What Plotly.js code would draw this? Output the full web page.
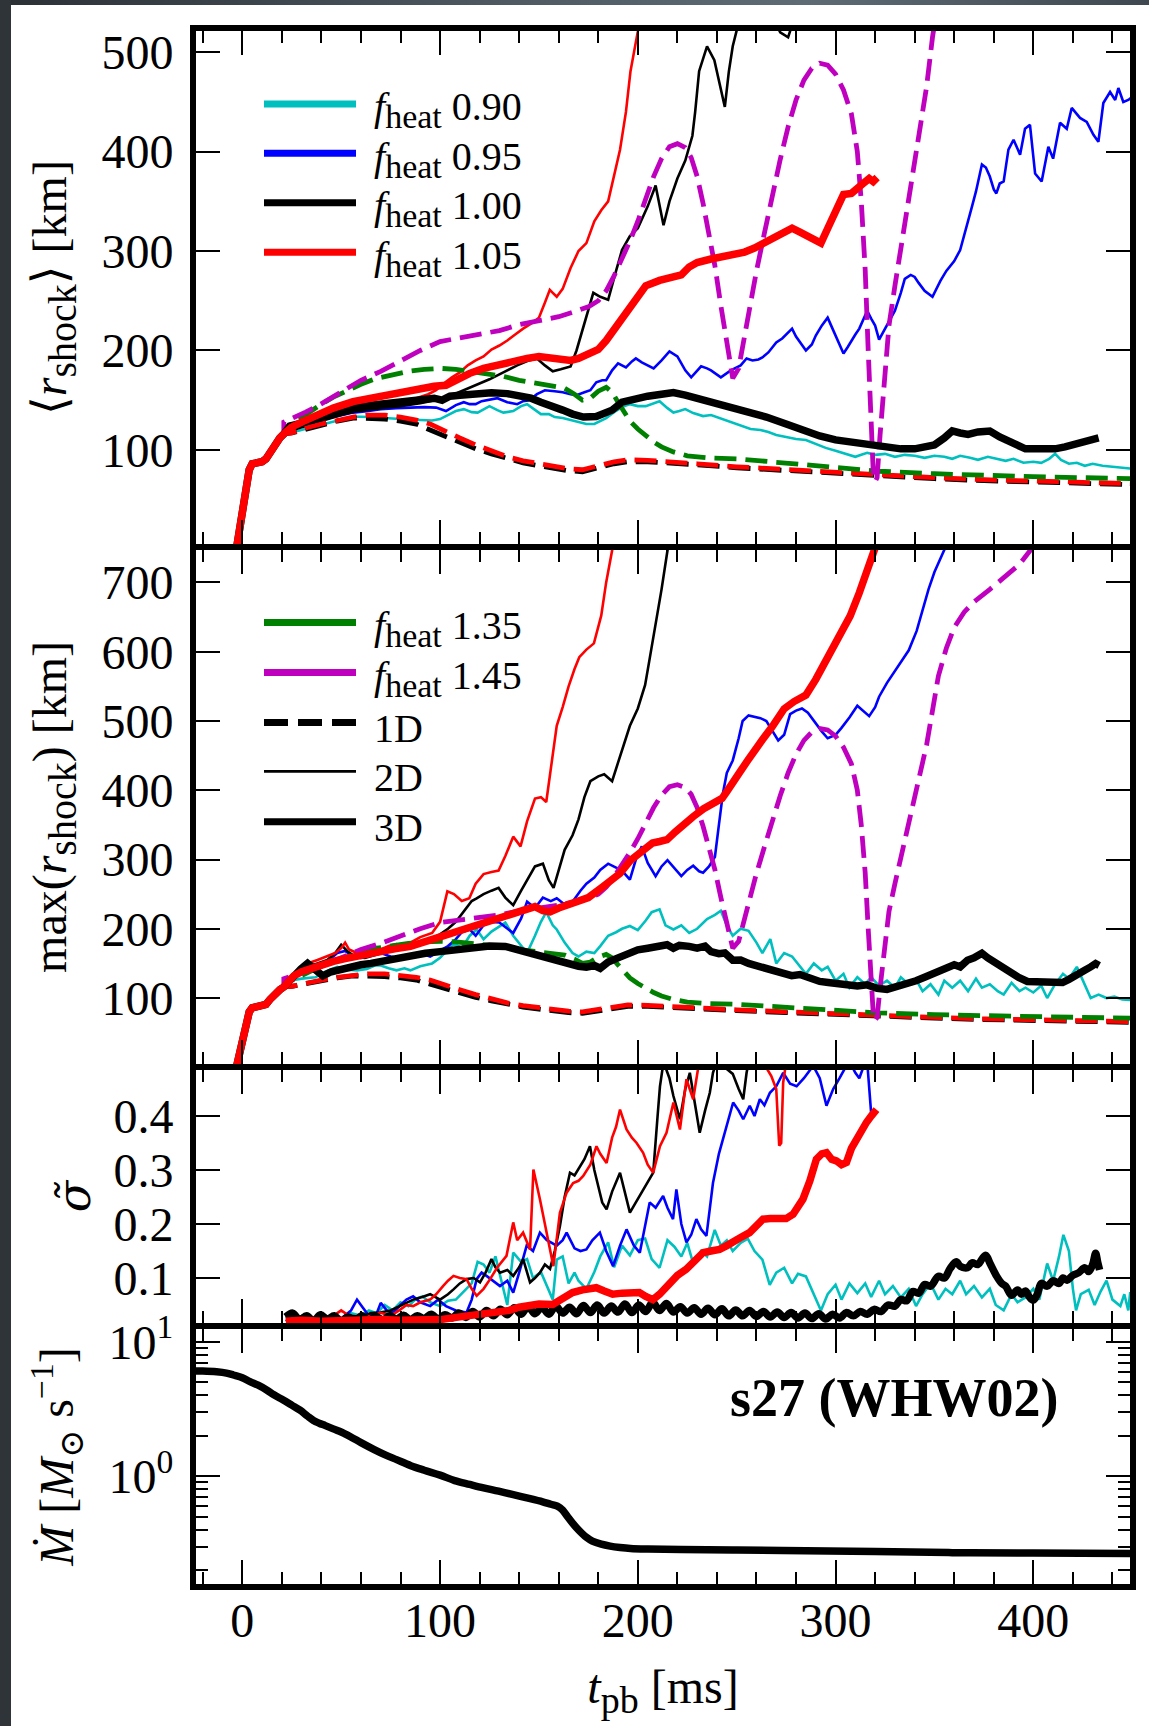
<!DOCTYPE html>
<html>
<head>
<meta charset="utf-8">
<script src="https://cdn.plot.ly/plotly-3.0.1.min.js"></script>
<style>
html, body { margin: 0; padding: 0; background: #ffffff; }
#edgeTop { position: absolute; left: 0; top: 0; width: 1149px; height: 5px;
  background: linear-gradient(90deg, #2b3035 0%, #4f5a63 45%, #5e6b75 70%, #3f4850 100%); }
#edgeLeft { position: absolute; left: 0; top: 0; width: 11px; height: 1726px; background: #2f3439; }
#chart { position: absolute; left: 0; top: 0; width: 1149px; height: 1726px; }
</style>
</head>
<body>
<div id="edgeTop"></div>
<div id="edgeLeft"></div>
<div id="chart"></div>
<script>
// ---------- data: [t_pb (ms), value] ----------

// common early post-bounce rise of the shock (all dimensions)
const bounce = [[-3,0],[-1.5,18],[0,40],[1,55],[2.2,66],[3.5,80],[5,86],[7.5,87],[10,88],[12,91],[14,98],[16.5,106],[19,112],[21,116]];

// 1D runs (shock radius, km) — same in mean and max panels
const r1D_f100 = [[25,117],[32,121],[40,125],[48,129],[56,132],[64,132],[72,131],[80,129],[88,126],[95,120],[102,114],[110,107],[118,101],[126,96],[134,91],[142,87],[150,84],[158,81],[165,79],[172,78],[177,80],[182,83],[188,86],[195,88],[205,88],[215,87],[230,85],[250,82],[275,79],[300,76],[325,73],[350,71],[375,69],[400,67.5],[425,66],[450,65]];
const r1D_f105 = [[25,117],[32,122],[40,126],[48,130],[56,133],[64,135],[72,135],[80,133],[88,130],[95,126],[102,119],[110,112],[118,105],[126,99],[134,93],[142,89],[150,86],[158,83],[165,81],[172,80],[177,82],[182,85],[188,88],[195,90],[205,89.5],[215,88.5],[230,86],[250,83],[275,80],[300,77],[325,74],[350,72],[375,70],[400,68.5],[425,67],[450,66]];
const r1D_f135 = [[22,122],[28,130],[34,139],[40,146],[46,153],[52,159],[60,166],[68,172],[76,176],[84,179],[92,181],[100,182],[108,181],[116,179],[124,177],[132,174],[140,170],[148,167],[156,165],[163,162],[168,156],[172,150],[176,152],[180,159],[184,163],[187,158],[190,148],[193,138],[196,129],[200,121],[204,114],[208,108],[212,103],[218,98],[225,94],[235,92],[250,91],[267,88],[285,84],[300,82],[322,78.5],[350,76],[378,74],[400,73],[425,72],[450,71]];
const r1D_f145 = [[21,128],[26,132],[32,138],[38,144],[45,152],[53,162],[60,170],[70,179],[80,190],[90,200],[100,209],[110,213],[120,216],[130,220],[140,226],[150,230],[160,234],[168,239],[175,244],[180,250],[184,260],[188,275],[192,292],[196,310],[200,330],[204,352],[208,375],[212,393],[216,405],[220,408],[224,404],[227,394],[230,375],[233,348],[236,315],[239,285],[242,245],[245,205],[248,172],[251,182],[254,215],[257,250],[260,280],[264,318],[268,358],[272,392],[276,425],[280,452],[284,472],[288,484],[292,489],[296,487],[300,478],[304,462],[308,438],[311,400],[313,350],[315,280],[316.5,200],[318,120],[319,80],[320,68],[321,72],[322.5,115],[324.5,170],[327,225],[330,265],[334,315],[338,360],[342,410],[346,465],[349,515],[352,565],[356,605],[360,635],[365,657],[370,672],[378,690],[385,706],[393,726],[400,752]];

// mean shock radius <r_shock>, 2D runs
const mean2D_f090 = [[24,117],[30,120],[38,124.5],[46,128],[56,133.5],[64,133],[70,132],[80,131],[90,130],[96,129.5],[100,131],[104,135],[108,139],[112,141],[116,138],[119,137.5],[122,141],[125,144],[129,140],[132,137.5],[137,139],[141,144],[144,146],[148,140],[151,136],[155,136],[158,133],[162,132],[166,130],[170,128],[174,126],[178,126],[181,129],[184,132],[188,138],[192,143],[196,146],[200,144],[204,144],[208,147],[211,149],[215,142],[218,137.5],[221,139],[224,141],[228,137],[233,134],[237,135],[240,133],[244,130],[248,127],[252,124.5],[257,121],[262,120],[266,118],[270,115],[275,113],[280,111],[285,110],[290,106],[295,102],[300,99],[305,96],[310,93],[313,95],[316,97],[320,95],[325,96],[330,93],[335,95],[340,94],[345,92],[350,94],[355,93],[359,91],[363,94],[368,92],[372,90],[377,93],[381,91],[386,89],[390,91],[395,87],[400,88],[404,87],[408,91],[411,96],[414,90],[418,86],[422,87],[426,84],[430,86],[435,84],[440,83],[445,82],[450,81]];
const mean2D_f095 = [[24,120],[30,124],[36,128],[42,131],[48,134],[56,137.5],[63,139],[70,141],[78,142],[86,142.5],[92,143],[98,142.5],[103,139],[108,145],[112,148],[115,146],[118,146],[121,149],[124,150],[129,152],[134,148],[139,146],[142,149],[145,150],[149,156],[153,160],[158,159],[162,158],[166,156],[169,155],[173,158],[176,160],[179,168],[182,170],[184,170],[187,180],[190,187],[192,185],[194,183],[197,189],[199,192],[202,188],[205,185],[208,182],[212,190],[216,199],[220,194],[224,180],[227,173],[230,180],[232,184],[235,182],[237,180],[242,173],[245,177],[247,180],[250,183],[252,185],[255,192],[258,190],[261,191],[263,193],[266,198],[268,203],[270,208],[273,212],[276,218],[278,222],[280,214],[282,208],[285,200],[288,206],[290,215],[293,225],[296,233],[298,224],[300,215],[302,205],[304,197],[306,203],[308,210],[310,216],[312,222],[314,232],[316,240],[318,232],[320,225],[322,211],[324,218],[326,225],[328,232],[330,240],[333,258],[335,272],[338,276],[340,274],[342,268],[345,260],[349,254],[351,262],[353,270],[356,280],[358,285],[360,290],[363,301],[365,315],[367,330],[369,345],[371,360],[373,378],[374,387],[376,384],[378,375],[380,362],[381.3,358],[383,368],[385,370],[387.4,402],[390,412],[393.3,397],[395.8,423],[398.3,427],[400.9,378],[404.2,370],[407.6,405],[410,393],[413.5,429],[416.9,423],[419.4,444],[423.6,434],[427,430],[430.4,417],[432.9,410],[435.4,449],[438.8,460],[441.4,452],[443,464],[445.5,450],[448,452],[450,455]];
const mean2D_f100 = [[24,119],[30,123],[40,129],[50,135],[58,139],[70,142],[80,144],[90,147],[95,149],[100,151],[106,155],[112,160],[119,166],[125,171],[132,178],[139,185],[145,190],[149,192],[153,185],[157,179],[161,181],[166,184],[169,200],[172,220],[175,240],[177.5,258],[181,254],[185,251],[189,280],[192,301],[196,315],[200,323],[205,345],[209,366],[213,326],[216,350],[220,373],[224,391],[227.6,416],[229,440],[231,481],[235,506],[238.7,492],[241,470],[244,445],[246,480],[248,506],[251,530],[258,560],[266,545],[272,520],[276,515],[280,540],[286,590]];
const mean2D_f105 = [[24,121],[30,126],[40,131],[50,137],[60,142],[70,146],[80,150],[88,152],[94,156],[98,160],[102,167],[106,173],[110,178],[114,185],[118,190],[122,194],[126,201],[130,205],[134,210],[138,216],[142,222],[146,227],[150,233],[153,248],[155.5,261],[157,258],[159,254],[162,262],[166,283],[170,300],[174,308],[178,330],[181.5,341],[185,350],[188,375],[191,402],[194,440],[196.3,481],[200,521],[203,560]];

// mean shock radius <r_shock>, 3D runs
const mean3D_f100 = [[24,124],[30,127],[40,133],[50,139],[56,142],[65,145],[75,147.5],[86,149],[93,152],[97,152],[101,150],[105,154],[110,155],[118,157],[126,157.5],[134,156.6],[140,155],[146,152],[151,148],[156,145],[162,140],[167,136],[172.5,133],[179,133.5],[183,136],[187,140],[192,148],[198,151],[205,154],[212,156],[218,157.6],[224,155],[230,152],[238,147],[247,142],[257,138],[265,133],[275,126],[285,118],[292,114],[300,110],[310,107],[322,103],[333,101],[340,101],[345,103],[350,105],[355,112],[359,119],[363,117],[367,115.5],[372,118],[378,119],[383,113],[389,107],[396,101],[403,101],[411,101],[416,103],[422,106.6],[427,110],[433,112]];
const mean3D_f105 = [[25,123],[30,128],[37,135],[46,142],[56,148.5],[63,151],[70,153.5],[77,157],[83,160],[90,162],[97,164],[103,165],[107,169],[111,174],[115,177],[122,182],[130,186],[137,189],[144,192],[150,194],[156,193],[162,191],[166,190],[170,192],[175,196],[180,201],[184,210],[188,221],[192,233],[196,243.5],[200,256],[204,265],[211,270.5],[218,273],[222,276],[226,284],[230,288.5],[237,292],[243,294],[248,296],[254,299],[259,303],[265,309],[270,315.5],[274,320],[278,323],[282,319],[285,315.5],[290,310],[292.6,308],[296,322.7],[300,340],[304,357],[308,358],[311,362],[314,368],[317,373],[319,370],[321,374]];

// maximum shock radius max(r_shock), 2D runs
const max2D_f090 = [[24,125],[30,128],[37,130],[42,138],[48,145],[53,141],[58,140],[63,142],[67,147],[70,147],[74,143],[78,140],[82,143],[85,140],[90,146],[96,150],[100,158],[104,170],[107,179],[111,172],[115,190],[118.5,199],[122,185],[126,196],[130,203],[133,209],[137,190],[141,175],[144,165],[148,190],[151,210],[153.7,224],[157,205],[159,199],[163,180],[167,165],[170,160],[174,167],[178,165],[181,175],[185,190],[189,195],[192,200],[196,204],[200,198],[204,212],[207,224],[211,228],[214,205],[218,199],[222,205],[226,194],[230,200],[235,214],[239,220],[242,226],[245,205],[248,190],[252,200],[256,197],[260,180],[263,165],[267,185],[270,150],[274,165],[278,160],[281,150],[285,135],[289,150],[293,140],[296,145],[300,125],[304,135],[307,115],[311,130],[315,120],[318,130],[322,118],[326,125],[330,115],[333,130],[337,120],[341,125],[344,110],[348,120],[352,105],[355,125],[359,115],[363,125],[367,110],[371,128],[374,115],[378,120],[382,110],[385,105],[389,122],[393,110],[396,115],[400,108],[404,118],[407,100],[411,120],[415,135],[418,128],[422,145],[426,120],[429,100],[433,105],[437,100],[441,102],[445,98],[450,97]];
const max2D_f095 = [[24,128],[30,135],[36,140],[42,150],[48,165],[52,168],[56,160],[60,158],[65,162],[70,165],[75,160],[80,157],[85,162],[90,165],[95,160],[100,168],[104,175],[108,185],[111,195],[115,199],[118,190],[122,205],[126,210],[130,209],[134,200],[137,194],[141,215],[144,239],[148,230],[152,245],[156,240],[159,244],[163,235],[167,239],[171,255],[174,265],[178,274],[181,285],[185,294],[188,290],[192,284],[196,271],[199,300],[202,319],[205,295],[209,276],[212,290],[215,299],[219,285],[222,276],[225,285],[228,291],[231,283],[233,281],[236,290],[239,304],[241,350],[243,395],[245,425],[248,443],[251,475],[253,500],[256,508],[259,506],[262,504],[265,500],[268,485],[271,472],[274,480],[277,510],[280,515],[283,518],[286,512],[289,500],[293,485],[296,475],[300,480],[303,490],[307,505],[311,522],[314,515],[317,507],[320,520],[322,535],[326,555],[330,572],[333,585],[337,602],[341,630],[344,662],[347,690],[350,715],[354,742],[357,760]];
const max2D_f100 = [[22,125],[28,135],[33,145],[38,150],[43,155],[47,165],[50,177],[53,168],[57,160],[62,158],[67,162],[72,165],[77,170],[81,172],[85,175],[90,180],[95,185],[100,192],[104,200],[108,210],[112,225],[116,240],[118.5,244],[122,250],[126,255],[129.6,259],[133,245],[137,234],[141,255],[145,275],[148,290],[152,294],[155,270],[157.4,259],[160,285],[163,314],[167,335],[170,358],[173,390],[176,413],[180,420],[183,423],[185,418],[187,413],[190,440],[192.6,463],[196,493],[200,518],[203.7,552],[206,590],[209,637],[212,690],[215,746],[217,790]];
const max2D_f105 = [[22,125],[28,138],[33,150],[38,155],[43,160],[47,165],[50,172],[52,180],[54,170],[58,165],[62,168],[66,172],[70,170],[74,175],[78,178],[82,175],[85,180],[90,188],[96,194],[100,210],[103.7,254],[107,250],[111,240],[114.8,244],[118,265],[122,279],[126,282],[129.6,284],[133,305],[137,333],[140.7,319],[144,355],[148,388],[151,390],[153.7,383],[156,430],[159,493],[162,520],[165,550],[168,575],[170.4,592],[174,603],[177.8,612],[181.5,652],[184,700],[187,746],[189,790]];

// maximum shock radius max(r_shock), 3D runs
const max3D_f100 = [[25,130],[29.6,142],[33,150],[37,140],[40.7,132],[45,138],[50,142],[55.5,144.7],[60,148],[65,150],[70,153],[74,154.7],[80,158],[86,161],[92.6,164.6],[100,167],[107.4,169.6],[113,172],[118.5,174.6],[125,175],[133,174.6],[139,170],[144.4,164.6],[150,160],[155,157],[159.3,154.7],[165,150],[170,146],[174,144.7],[178,147],[181,143],[185,152],[190,158],[195,164],[200,169.6],[205,172],[210,175],[214.8,177],[218,172],[221,176],[226,174.6],[230,172],[234,175],[237,167],[241,164],[244,165],[248,154.7],[252,155],[256,150],[260,147],[263,144.7],[268,142],[272,137],[277.8,132.3],[282,134],[287,128],[292,124],[296.3,122.4],[301,121],[306,118],[311,117.4],[316,119],[321,114],[326,112.4],[330,116],[335,118],[340.7,124.9],[345,130],[350,136],[355.6,144.7],[360,148],[363,145],[366.7,154.7],[370,158],[374,164.6],[377,158],[381.5,149.7],[385,142],[388,137],[392.6,129.8],[397,124],[403.7,122.4],[409,123],[414.8,122.4],[418,127],[422,134.8],[426,140],[429,145],[431.5,149.7],[433.3,147]];
const max3D_f105 = [[26,132],[30,138],[35,143],[40.7,149.7],[46,153],[52,157],[57,160],[63,164.6],[70,168],[77,171],[85,174.6],[92,181],[100,187],[107.4,194.4],[114,200],[122,206],[129.6,214.3],[136,221],[144.4,229.2],[148,232],[152,226],[155.6,224.3],[160,230],[165,235],[170.4,239],[175,245],[181.5,259],[186,268],[191,280],[196.3,298.8],[202,312],[207.4,323.7],[211,326],[214.8,328.7],[219,340],[224,353.5],[228,362],[233.3,373.4],[238,380],[242.6,388.3],[245,398],[248,413],[252,428],[255.6,443],[259,458],[263,472.8],[268,492],[274,517.6],[279,528],[285,537.4],[290,560],[296.3,592],[301,618],[307.4,651.8],[312,685],[316,718],[318.5,741],[320,750]];

// normalized anisotropy sigma-tilde, 2D runs
const sig2D_f090 = [[22,0.025],[26,0.03],[30,0.022],[35,0.028],[40,0.02],[45,0.03],[50,0.025],[55,0.035],[60,0.03],[64,0.04],[68,0.035],[72,0.05],[76,0.04],[80,0.055],[84,0.048],[88,0.062],[91,0.066],[95,0.055],[100,0.048],[104,0.058],[108,0.06],[112,0.075],[116,0.09],[119,0.13],[122,0.125],[125,0.11],[128,0.14],[131,0.095],[134,0.05],[137,0.147],[141,0.13],[144,0.135],[147,0.1],[151,0.111],[154,0.085],[157,0.06],[159,0.134],[162,0.14],[165,0.09],[168,0.11],[170,0.095],[174,0.08],[178,0.111],[181,0.14],[185,0.166],[188,0.12],[192,0.16],[196,0.142],[200,0.17],[203.7,0.173],[207,0.135],[211,0.119],[215,0.17],[218.5,0.158],[222,0.14],[225,0.165],[228,0.127],[232,0.15],[235,0.14],[238.9,0.189],[242,0.16],[245,0.17],[248,0.15],[252,0.165],[255.6,0.173],[259,0.15],[263,0.134],[266.7,0.0875],[270,0.11],[274,0.119],[278,0.09],[281,0.108],[285,0.103],[289,0.07],[292.6,0.04],[296,0.07],[300,0.0875],[303,0.06],[307,0.09],[311,0.072],[315,0.09],[318,0.065],[322,0.095],[325,0.07],[329,0.085],[333,0.064],[337,0.08],[340.7,0.048],[344,0.07],[348,0.09],[352,0.06],[355.6,0.08],[359,0.07],[363,0.095],[366,0.07],[370,0.085],[374,0.064],[378,0.08],[381,0.05],[385,0.04],[389,0.07],[392,0.055],[396,0.064],[400,0.08],[403,0.06],[407,0.127],[410,0.095],[413,0.14],[415.2,0.18],[418,0.15],[420,0.08],[421.6,0.04],[424,0.07],[428,0.078],[431,0.05],[434,0.075],[437,0.095],[440,0.06],[444,0.048],[446,0.07],[448,0.04],[449,0.074]];
const sig2D_f095 = [[22,0.02],[27,0.03],[32,0.025],[38,0.02],[44,0.028],[50,0.025],[55,0.04],[58,0.06],[61,0.045],[64,0.03],[68,0.035],[70,0.054],[73,0.04],[76.3,0.036],[80,0.05],[83,0.06],[86.4,0.066],[90,0.055],[95,0.048],[99,0.06],[103,0.048],[108,0.04],[113.4,0.036],[116,0.06],[118.5,0.098],[121,0.11],[123.5,0.104],[127,0.095],[130.3,0.085],[134,0.095],[137,0.073],[140,0.11],[143.8,0.16],[147,0.15],[150.5,0.184],[154,0.17],[159,0.16],[162,0.17],[164,0.184],[168,0.155],[171,0.15],[174,0.153],[177,0.17],[180.8,0.184],[184,0.15],[187.5,0.122],[191,0.16],[194.3,0.19],[198,0.16],[201,0.147],[204,0.2],[206,0.24],[209,0.23],[212.8,0.252],[215,0.23],[217.8,0.209],[219.5,0.264],[222,0.2],[224.6,0.166],[227,0.18],[229.6,0.209],[232,0.19],[234.7,0.178],[236,0.22],[238,0.276],[241,0.33],[244.8,0.381],[248.2,0.425],[251,0.41],[253.3,0.394],[256.6,0.419],[259,0.4],[261.7,0.431],[264,0.42],[266.8,0.443],[270,0.455],[273.5,0.48],[277,0.46],[280.3,0.455],[284,0.47],[288.7,0.493],[292,0.47],[295.4,0.419],[298.8,0.45],[302,0.47],[305,0.49],[307.2,0.5],[310,0.48],[312,0.47],[314,0.49],[316,0.5],[317.5,0.44],[318,0.405]];
const sig2D_f100 = [[22,0.03],[26,0.02],[30,0.03],[35,0.025],[40,0.02],[45,0.025],[50,0.022],[55,0.03],[60,0.028],[65,0.035],[69.6,0.036],[75,0.04],[79.7,0.048],[84,0.055],[86.4,0.06],[91,0.065],[95,0.07],[100,0.06],[104,0.07],[106.8,0.079],[110,0.09],[113.4,0.098],[117,0.1],[120.2,0.092],[123,0.11],[126,0.135],[128,0.12],[130.3,0.11],[134,0.115],[137,0.104],[140,0.12],[142,0.135],[145.5,0.092],[148,0.1],[150.5,0.11],[153,0.125],[155.6,0.117],[158,0.15],[160.6,0.196],[163,0.25],[165.7,0.295],[168,0.29],[170.7,0.307],[173,0.32],[175.8,0.344],[178,0.3],[180.8,0.258],[182,0.24],[184.2,0.227],[187,0.26],[191,0.295],[194,0.25],[196,0.221],[199,0.24],[201,0.252],[204,0.27],[207.8,0.295],[210,0.4],[211.2,0.455],[213,0.5],[216,0.47],[218,0.437],[220,0.41],[221.3,0.394],[224,0.45],[226.3,0.48],[229,0.42],[231.3,0.369],[234,0.41],[236.4,0.443],[238,0.48],[239.8,0.5],[244,0.49],[248,0.478],[251,0.45],[253.3,0.431],[255,0.48],[257,0.52],[262,0.55]];
const sig2D_f105 = [[22,0.02],[26,0.03],[30,0.025],[34,0.02],[38,0.03],[42,0.02],[46,0.03],[50,0.04],[54,0.03],[58,0.025],[62,0.03],[66,0.028],[69.6,0.036],[75,0.03],[79.7,0.041],[83,0.05],[86.4,0.048],[90,0.055],[95,0.06],[98,0.07],[101.5,0.085],[104,0.095],[106.8,0.104],[110,0.1],[113.4,0.098],[116,0.08],[118.5,0.067],[122,0.08],[125.3,0.098],[129,0.12],[133.6,0.141],[137,0.203],[139,0.17],[142,0.184],[145.5,0.153],[147.2,0.301],[150.5,0.246],[154,0.184],[157.3,0.122],[160.6,0.221],[164,0.258],[167.3,0.276],[170,0.28],[172.4,0.289],[176,0.31],[179.1,0.344],[181,0.33],[184.2,0.313],[187,0.36],[189,0.38],[191,0.412],[194.3,0.375],[197,0.36],[199.4,0.35],[202.7,0.332],[205,0.31],[207.8,0.295],[211.2,0.344],[214.5,0.369],[218,0.425],[221.3,0.375],[224.6,0.468],[228,0.431],[231,0.5],[234,0.53],[240,0.55],[250,0.55],[260,0.52],[265,0.49],[267.5,0.474],[270,0.45],[271.5,0.345],[272.5,0.35],[273.5,0.462],[275,0.5],[280,0.55]];

// normalized anisotropy sigma-tilde, 3D runs
const sig3D_f100 = [[22,0.028],[25.5,0.035],[29,0.022],[32.5,0.03],[36,0.02],[39.5,0.032],[43,0.024],[46.5,0.03],[50,0.02],[53.5,0.028],[57,0.022],[60.5,0.03],[64,0.021],[67.5,0.029],[71,0.022],[74.5,0.03],[78,0.024],[81.5,0.031],[85,0.023],[88.5,0.03],[92,0.025],[95.5,0.033],[99,0.024],[102.5,0.032],[106,0.026],[109.5,0.035],[113,0.027],[116.5,0.038],[120,0.028],[123.5,0.04],[127,0.03],[130.5,0.042],[134,0.032],[137.5,0.045],[141,0.033],[144.5,0.047],[148,0.034],[151.5,0.046],[155,0.033],[158.5,0.048],[162,0.035],[165.5,0.046],[169,0.034],[172.5,0.049],[176,0.036],[179.5,0.05],[183,0.035],[186.5,0.048],[190,0.037],[193.5,0.052],[197,0.036],[200.5,0.05],[204,0.038],[207.5,0.055],[211,0.04],[214.5,0.053],[218,0.037],[221.5,0.047],[225,0.035],[228.5,0.045],[232,0.033],[235.5,0.044],[239,0.032],[242.5,0.043],[246,0.03],[249.5,0.041],[253,0.03],[256.5,0.04],[260,0.029],[263.5,0.038],[267,0.028],[270.5,0.037],[274,0.027],[277.5,0.036],[281,0.026],[284.5,0.035],[288,0.025],[291.5,0.034],[295,0.024],[298.5,0.033],[302,0.026],[305.5,0.036],[309,0.03],[312.5,0.038],[316,0.033],[319.5,0.042],[323,0.038],[326.5,0.05],[330,0.048],[333,0.06],[336,0.058],[339,0.075],[342,0.072],[345,0.088],[348,0.085],[352,0.103],[355,0.1],[358,0.118],[361,0.13],[363,0.122],[366.7,0.119],[369,0.128],[372,0.125],[374,0.135],[376,0.142],[378,0.128],[381.5,0.103],[384,0.09],[386,0.085],[389,0.068],[392,0.078],[394,0.07],[396,0.076],[398,0.065],[400,0.059],[402,0.07],[404,0.09],[407,0.085],[410,0.095],[413,0.09],[415,0.1],[417,0.096],[420,0.105],[423,0.11],[426,0.119],[428,0.112],[430,0.125],[431.5,0.146],[432.5,0.13],[433.5,0.115]];
const sig3D_f105 = [[22,0.02],[30,0.022],[40,0.02],[50,0.022],[60,0.021],[69.6,0.023],[80,0.022],[90,0.022],[100,0.023],[110,0.028],[120,0.033],[128,0.036],[135,0.04],[140,0.046],[145.5,0.051],[150,0.052],[157,0.051],[162,0.062],[167,0.073],[172,0.078],[176,0.08],[179,0.082],[183,0.076],[187.3,0.07],[192,0.072],[196,0.071],[200.8,0.073],[204,0.066],[207.6,0.06],[211,0.07],[216,0.091],[220,0.105],[224.4,0.116],[228,0.13],[233,0.147],[237,0.15],[241.3,0.153],[245,0.16],[248,0.168],[252,0.175],[256.5,0.184],[260,0.195],[263.3,0.209],[267,0.21],[271.7,0.212],[275,0.21],[278.5,0.218],[281,0.23],[283.5,0.246],[287,0.28],[290.3,0.32],[293,0.33],[295.4,0.332],[298,0.32],[300.4,0.317],[303,0.31],[305.5,0.314],[308,0.34],[310.5,0.357],[313,0.375],[315.6,0.388],[318,0.4],[320.7,0.412]];

// mass accretion rate (M_sun / s), s27 progenitor
const mdot = [[-25,6.06],[-20,6.05],[-13,5.98],[-8,5.85],[-4.5,5.66],[0,5.4],[3.9,5.05],[8,4.75],[12.3,4.38],[16,4.03],[20.7,3.69],[25,3.38],[29.2,3.1],[33,2.8],[36,2.6],[38.9,2.48],[42,2.38],[46,2.25],[51.9,2.07],[56,1.92],[60,1.78],[66.7,1.58],[72,1.45],[78,1.33],[85.2,1.2],[92,1.11],[100,1.02],[107.4,0.93],[115,0.87],[122,0.82],[129.6,0.775],[137,0.73],[145,0.685],[151.9,0.646],[156,0.62],[159.3,0.6],[162,0.56],[164.5,0.5],[166.7,0.455],[169,0.415],[171.5,0.38],[174,0.352],[177,0.33],[181.5,0.313],[186,0.303],[191,0.296],[196.3,0.291],[205,0.288],[222,0.286],[250,0.283],[285,0.28],[320,0.276],[359,0.271],[400,0.269],[450,0.267]];

// legend labels
const heatLabelsTop = ['0.90', '0.95', '1.00', '1.05'];
const heatLabelsMid = ['1.35', '1.45'];
const dimLabels = ['1D', '2D', '3D'];

// ---------- styling ----------
const C = { cyan: '#00bfbf', blue: '#0000ff', black: '#000000', red: '#ff0000', green: '#008000', magenta: '#bf00bf' };
const W2D = 2.6, W3D = 7.5, W1D = 4.8;
const DASH = '22px,9px';
const FONT = '"Liberation Serif", "DejaVu Serif", serif';

function line(pts, k, color, width, dash, smooth) {
  return {
    type: 'scatter', mode: 'lines',
    x: pts.map(p => p[0]), y: pts.map(p => p[1]),
    xaxis: 'x' + (k === 1 ? '' : k), yaxis: 'y' + (k === 1 ? '' : k),
    line: Object.assign({ color: color, width: width, dash: dash || 'solid' },
      smooth ? { shape: 'spline', smoothing: 1 } : {}),
    showlegend: false, hoverinfo: 'skip'
  };
}
const withBounce = pts => bounce.concat(pts);

const traces = [];
// panels 1 (mean) and 2 (max)
[[1, { f090: mean2D_f090, f095: mean2D_f095, f100: mean2D_f100, f105: mean2D_f105, d100: mean3D_f100, d105: mean3D_f105 }],
 [2, { f090: max2D_f090, f095: max2D_f095, f100: max2D_f100, f105: max2D_f105, d100: max3D_f100, d105: max3D_f105 }]]
.forEach(([k, s]) => {
  traces.push(line(withBounce(s.f090), k, C.cyan, W2D));
  traces.push(line(withBounce(s.f095), k, C.blue, W2D));
  traces.push(line(withBounce(s.f100), k, C.black, W2D));
  traces.push(line(withBounce(s.f105), k, C.red, W2D));
  traces.push(line(withBounce(r1D_f100), k, C.black, W1D, DASH));
  traces.push(line(withBounce(r1D_f105), k, C.red, W1D, DASH));
  traces.push(line(withBounce(r1D_f135), k, C.green, W1D, DASH));
  traces.push(line(withBounce(r1D_f145), k, C.magenta, W1D, DASH));
  traces.push(line(withBounce(s.d100), k, C.black, W3D));
  traces.push(line(withBounce(s.d105), k, C.red, W3D));
});
// panel 3 (anisotropy)
traces.push(line(sig2D_f090, 3, C.cyan, W2D));
traces.push(line(sig2D_f095, 3, C.blue, W2D));
traces.push(line(sig2D_f100, 3, C.black, W2D));
traces.push(line(sig2D_f105, 3, C.red, W2D));
traces.push(line(sig3D_f100, 3, C.black, W3D, null, true));
traces.push(line(sig3D_f105, 3, C.red, W3D));
// panel 4 (accretion rate)
traces.push(line(mdot, 4, C.black, 7.5, null, true));

// ---------- layout ----------
const PLOT_L = 196, PLOT_R = 1130, PLOT_T = 31, PLOT_B = 1584;
const H = PLOT_B - PLOT_T, Wd = PLOT_R - PLOT_L;
const py = v => (PLOT_B - v) / H;   // page y (px) -> paper fraction
const px = v => (v - PLOT_L) / Wd;  // page x (px) -> paper fraction

const T_RANGE = [-23.41, 448.88];
const tickFont = { family: FONT, size: 48, color: '#000' };
const sub = (s, size) => '<sub><span style="font-size:' + size + 'px">' + s + '</span></sub>';

function xAxis(k, labels) {
  const ax = {
    anchor: 'y' + (k === 1 ? '' : k), range: T_RANGE,
    showline: true, linewidth: 6, linecolor: '#000', mirror: 'ticks',
    ticks: 'inside', ticklen: 24, tickwidth: 2, tickcolor: '#000',
    tickmode: 'linear', tick0: 0, dtick: 100,
    minor: { ticks: 'inside', ticklen: 12, tickwidth: 2, tickcolor: '#000', tick0: 0, dtick: 20, showgrid: false },
    showgrid: false, zeroline: false, showticklabels: labels,
    tickfont: tickFont, ticklabelstandoff: -11
  };
  if (labels) ax.title = { text: '<i>t</i>' + sub('pb', 38) + ' [ms]', font: { family: FONT, size: 48 }, standoff: 26 };
  return ax;
}
function yAxis(k, domain, range, extra) {
  return Object.assign({
    anchor: 'x' + (k === 1 ? '' : k), domain: domain, range: range,
    showline: true, linewidth: 6, linecolor: '#000', mirror: 'ticks',
    ticks: 'inside', ticklen: 24, tickwidth: 2, tickcolor: '#000',
    showgrid: false, zeroline: false, tickfont: tickFont, ticklabelstandoff: 7
  }, extra);
}

// legend swatches and labels
const shapes = [], annotations = [];
const LX0 = px(264), LX1 = px(356), LTX = px(372);
function legendRow(yPage, color, width, dash, text) {
  shapes.push({ type: 'line', xref: 'paper', yref: 'paper', x0: LX0, x1: LX1, y0: py(yPage), y1: py(yPage),
    line: { color: color, width: width, dash: dash || 'solid' }, layer: 'above' });
  annotations.push({ xref: 'paper', yref: 'paper', x: LTX, y: py(yPage + 6), xanchor: 'left', yanchor: 'middle',
    text: text, showarrow: false, font: { family: FONT, size: 40, color: '#000' } });
}
const fheat = v => '<i>f</i>' + sub('heat', 34) + ' ' + v;
[[104, C.cyan], [153.3, C.blue], [202.7, C.black], [252.3, C.red]].forEach(([y, c], i) =>
  legendRow(y, c, 7, 'solid', fheat(heatLabelsTop[i])));
legendRow(622.6, C.green, 7, 'solid', fheat(heatLabelsMid[0]));
legendRow(672.6, C.magenta, 7, 'solid', fheat(heatLabelsMid[1]));
legendRow(722.5, C.black, 7, '24px,10px', dimLabels[0]);
legendRow(771.4, C.black, 2.6, 'solid', dimLabels[1]);
legendRow(821.7, C.black, 7, 'solid', dimLabels[2]);

annotations.push({ xref: 'paper', yref: 'paper', x: px(1060), y: py(1398), xanchor: 'right', yanchor: 'middle',
  text: '<b>s27 (WHW02)</b>', showarrow: false, font: { family: FONT, size: 54, color: '#000' } });

const layout = {
  width: 1149, height: 1726,
  margin: { l: PLOT_L, r: 1149 - PLOT_R, t: PLOT_T, b: 1726 - PLOT_B, pad: 0 },
  paper_bgcolor: 'rgba(0,0,0,0)', plot_bgcolor: '#ffffff',
  font: { family: FONT, size: 48, color: '#000' },
  showlegend: false,
  xaxis: xAxis(1, false), xaxis2: xAxis(2, false), xaxis3: xAxis(3, false), xaxis4: xAxis(4, true),
  yaxis: yAxis(1, [py(544), 1], [5.3, 521.4], {
    tickmode: 'array', tickvals: [100, 200, 300, 400, 500],
    title: { text: '⟨<i>r</i>' + sub('shock', 40) + '⟩ [km]', font: { family: FONT, size: 48 }, standoff: 22 } }),
  yaxis2: yAxis(2, [py(1064), py(550)], [4.8, 746.8], {
    tickmode: 'array', tickvals: [100, 200, 300, 400, 500, 600, 700],
    title: { text: 'max(<i>r</i>' + sub('shock', 40) + ') [km]', font: { family: FONT, size: 48 }, standoff: 22 } }),
  yaxis3: yAxis(3, [py(1323), py(1070)], [0.0167, 0.4852], {
    tickmode: 'array', tickvals: [0.1, 0.2, 0.3, 0.4], ticktext: ['0.1', '0.2', '0.3', '0.4'],
    title: { text: '<i>σ̃</i>', font: { family: '"DejaVu Serif", serif', size: 46 }, standoff: 10 } }),
  yaxis4: yAxis(4, [0, py(1329)], [-0.8001, 1.0944], {
    type: 'log', tickmode: 'array', tickvals: [1, 10], ticktext: ['10<sup>0</sup>', '10<sup>1</sup>'],
    minor: { ticks: 'inside', ticklen: 12, tickwidth: 2, tickcolor: '#000', tickmode: 'array',
      tickvals: [0.2, 0.3, 0.4, 0.5, 0.6, 0.7, 0.8, 0.9, 2, 3, 4, 5, 6, 7, 8, 9], showgrid: false },
    title: { text: '<i>Ṁ</i> [<i>M</i><sub>⊙</sub> s<sup>−1</sup>]', font: { family: FONT, size: 48 }, standoff: 22 } }),
  shapes: shapes,
  annotations: annotations
};

Plotly.newPlot('chart', traces, layout, { displayModeBar: false, staticPlot: true });
</script>
</body>
</html>
